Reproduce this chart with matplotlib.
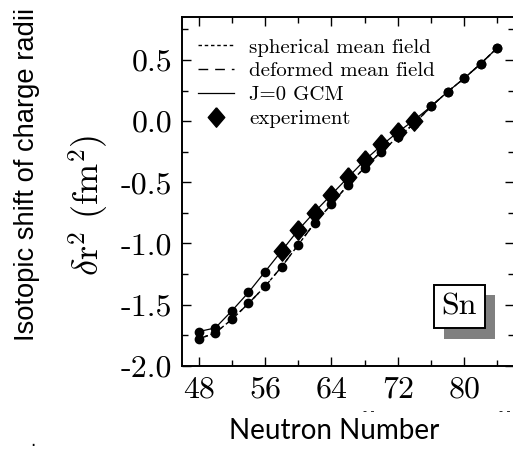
import matplotlib
matplotlib.use('Agg')
from matplotlib import pyplot as plt
from matplotlib.ticker import MultipleLocator
import matplotlib.patheffects as pe
import numpy as np

plt.rcParams['font.family'] = 'cmr10'
plt.rcParams['mathtext.fontset'] = 'cm'
plt.rcParams['axes.unicode_minus'] = False
plt.rcParams['axes.formatter.use_mathtext'] = False

# neutron numbers (even N, Sn isotopes)
N = [48, 50, 52, 54, 56, 58, 60, 62, 64, 66, 68, 70, 72, 74, 76, 78, 80, 82, 84]
# mean field results (spherical and deformed coincide for Sn)
spherical = [-1.78, -1.73, -1.62, -1.49, -1.35, -1.19, -1.01, -0.83, -0.68, -0.52,
             -0.38, -0.25, -0.13, -0.02, 0.12, 0.24, 0.35, 0.47, 0.60]
deformed = [-1.78, -1.73, -1.62, -1.49, -1.35, -1.19, -1.01, -0.83, -0.68, -0.52,
            -0.38, -0.25, -0.13, -0.02, 0.12, 0.24, 0.35, 0.47, 0.60]
# J=0 GCM
gcm = [-1.72, -1.69, -1.55, -1.40, -1.23, -1.06, -0.89, -0.74, -0.60, -0.46,
       -0.32, -0.20, -0.09, 0.01, 0.12, 0.24, 0.35, 0.47, 0.60]
# experiment
N_exp = [58, 60, 62, 64, 66, 68, 70, 72, 74]
exp = [-1.06, -0.89, -0.75, -0.60, -0.46, -0.32, -0.19, -0.09, 0.00]

diamond = [(0, 1), (0.85, 0), (0, -1), (-0.85, 0), (0, 1)]

fig = plt.figure(figsize=(5.13, 4.5), dpi=100)
ax = fig.add_axes([0.355, 0.187, 0.647, 0.775])

ax.plot(N, spherical, color='k', lw=1.0, ls=(0, (2.5, 2)), label='spherical mean field')
ax.plot(N, deformed, color='k', lw=1.0, ls=(0, (7, 5)), label='deformed mean field')
ax.plot(N, gcm, color='k', lw=0.9, ls='-', label='J=0 GCM')
ax.plot(N, deformed, 'o', color='k', ms=6, zorder=3)
ax.plot(N, gcm, 'o', color='k', ms=6, zorder=3)
ax.plot(N_exp, exp, ls='none', marker=diamond, color='k', ms=14, zorder=4,
        label='experiment')

ax.set_xlim(46, 86)
ax.set_ylim(-2.0, 0.85)
ax.xaxis.set_major_locator(MultipleLocator(8))
ax.xaxis.set_minor_locator(MultipleLocator(4))
ax.yaxis.set_major_locator(MultipleLocator(0.5))
ax.yaxis.set_minor_locator(MultipleLocator(0.25))
ax.yaxis.set_major_formatter(plt.FormatStrFormatter('%.1f'))
ax.tick_params(which='both', direction='in', top=True, right=True, width=1.0)
ax.tick_params(which='major', length=6.5, labelsize=23, pad=7)
ax.tick_params(which='minor', length=4)
for s in ax.spines.values():
    s.set_linewidth(1.4)

fig.text(0.173, 0.544, r'$\delta\mathrm{r}^2\ (\mathrm{fm}^2)$', fontsize=26,
         rotation=90, ha='center', va='center', rotation_mode='anchor')

leg = ax.legend(loc='upper left', bbox_to_anchor=(-0.015, 1.0), frameon=False,
                fontsize=15, handlelength=1.75, handletextpad=0.7,
                labelspacing=0.25, borderaxespad=0.6, borderpad=0.4)

t = ax.text(79.4, -1.515, 'Sn', fontsize=23, ha='center', va='center',
            bbox=dict(boxstyle='square,pad=0.25', fc='white', ec='k', lw=1.4))
t.get_bbox_patch().set_path_effects([
    pe.SimplePatchShadow(offset=(7.5, -7.5), shadow_rgbFace='#808080', alpha=1.0),
    pe.Normal()])

fig.text(0.053, 0.612, 'Isotopic shift of charge radii', rotation=90,
         ha='center', va='center', fontsize=19.7, family='Liberation Sans')
fig.text(0.651, 0.042, 'Neutron Number', ha='center', va='center',
         fontsize=20, family='Lato')
fig.text(0.719, 0.087, '- -', ha='center', va='center', fontsize=8, family='DejaVu Sans')
fig.text(0.983, 0.087, '- -', ha='center', va='center', fontsize=8, family='DejaVu Sans')
fig.text(0.064, 0.0, '.', ha='center', va='bottom', fontsize=12, family='DejaVu Sans')

fig.savefig('out.png', dpi=100)
